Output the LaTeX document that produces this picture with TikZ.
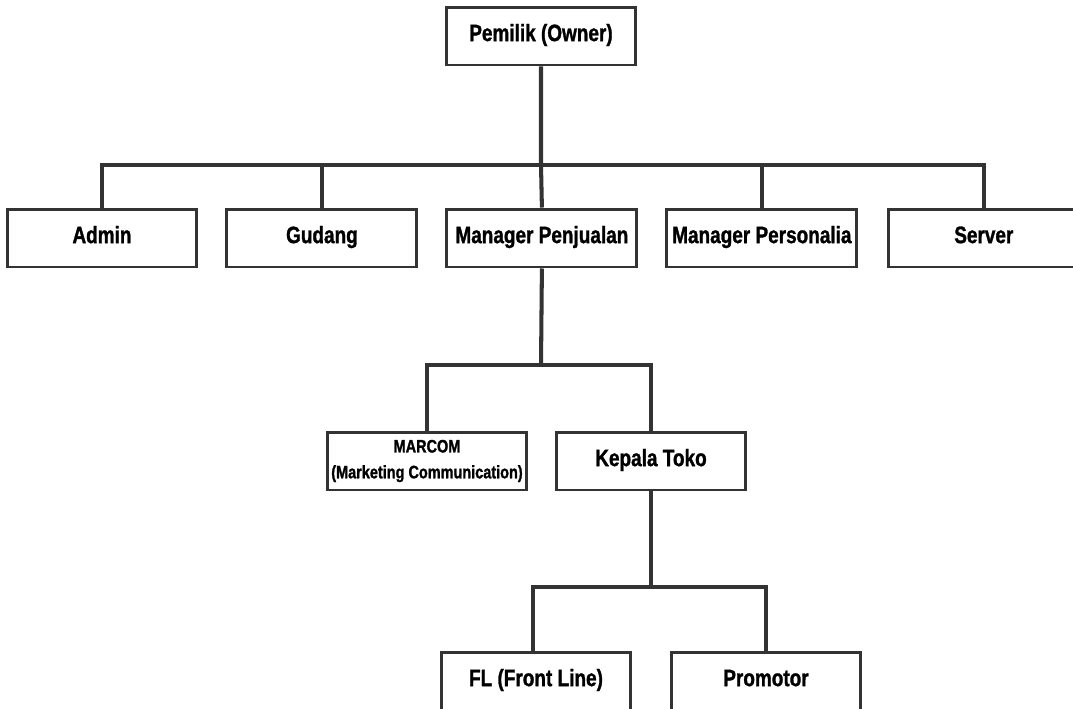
\documentclass[tikz,border=0pt]{standalone}
\usepackage{fontspec}
\setmainfont{Liberation Sans}[FakeStretch=0.8, BoldFeatures={FakeBold=1.2}]

\tikzset{
    jabatan/.style={draw=black!80, line width=1.7pt, fill=white, minimum width=3.8cm, minimum height=1.16cm, inner sep=2pt, font=\fontsize{13.5}{15}\selectfont\bfseries},
    satu/.style={jabatan, text height=1.45ex, text depth=0.35ex},
    garis/.style={draw=black!80, line width=2.3pt, line join=miter}
}

\begin{document}
\begin{tikzpicture}[x=0.02cm, y=-0.02cm, node distance=4.4cm]
    \clip (0,0) rectangle (1073,708);
    \fill[white] (0,0) rectangle (1073,708);

    \node[satu] (owner) at (541,36) {Pemilik (Owner)};
    \node[satu] (admin) at (102,238) {Admin};
    \node[satu, right of=admin] (gudang) {Gudang};
    \node[satu, right of=gudang] (penjualan) {Manager Penjualan};
    \node[satu, right of=penjualan] (personalia) {Manager Personalia};
    \node[satu, right of=personalia, xshift=0.04cm] (server) {Server};
    \node[jabatan, align=center, font=\fontsize{10.3}{14.7}\selectfont\bfseries] (marcom) at (427,461) {MARCOM\\(Marketing Communication)};
    \node[satu] (kepala) at (651,461) {Kepala Toko};
    \node[satu] (fl) at (536,681) {FL (Front Line)};
    \node[satu] (promotor) at (766,681) {Promotor};

    % Bus lines
    \coordinate (bus1) at (541,165);
    \coordinate (bus2) at (541,365);
    \coordinate (bus3) at (651,587);

    \draw[garis] (owner.south) -- (bus1) -- (penjualan.north);
    \draw[garis] (bus1) -| (admin.north);
    \draw[garis] (bus1) -| (gudang.north);
    \draw[garis] (bus1) -| (personalia.north);
    \draw[garis] (bus1) -| (server.north);
    \draw[garis] (penjualan.south) -- (bus2);
    \draw[garis] (bus2) -| (marcom.north);
    \draw[garis] (bus2) -| (kepala.north);
    \draw[garis] (kepala.south) -- (bus3);
    \draw[garis] (bus3) -| ([xshift=-0.06cm]fl.north);
    \draw[garis] (bus3) -| (promotor.north);
\end{tikzpicture}
\end{document}
